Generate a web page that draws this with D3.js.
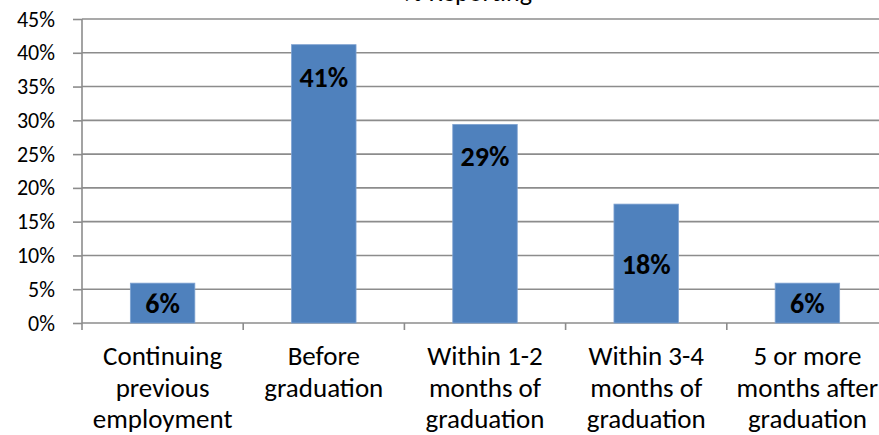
<!DOCTYPE html>
<html>
<head>
<meta charset="utf-8">
<script src="https://cdn.jsdelivr.net/npm/d3@7"></script>
<style>
  body { margin: 0; background: #fff; }
  svg { display: block; font-family: Carlito, Calibri, Lato, sans-serif; }
</style>
</head>
<body>
<script>
// chart data
var categories = [
  ["Continuing", "previous", "employment"],
  ["Before", "graduation"],
  ["Within 1-2", "months of", "graduation"],
  ["Within 3-4", "months of", "graduation"],
  ["5 or more", "months after", "graduation"]
];
var values = [5.9, 41.2, 29.4, 17.6, 5.9];
var valueLabels = ["6%", "41%", "29%", "18%", "6%"];
var yTicks = [0, 5, 10, 15, 20, 25, 30, 35, 40, 45];
var chartTitle = "% Reporting";

var svgWidth = 879;
var svgHeight = 435;
var margin = { top: 19, right: -9, bottom: 112, left: 82 };
var width = svgWidth - margin.left - margin.right;
var height = svgHeight - margin.top - margin.bottom;

var svg = d3.select("body")
  .append("svg")
  .attr("width", svgWidth)
  .attr("height", svgHeight);

// title, mostly cut off at the top like the source
svg.append("text")
  .attr("x", 468)
  .attr("y", 1)
  .attr("text-anchor", "middle")
  .style("font-size", "26px")
  .attr("fill", "#000")
  .text(chartTitle);

var chartGroup = svg.append("g")
  .attr("transform", `translate(${margin.left}, ${margin.top})`);

var xScale = d3.scaleBand()
  .domain(d3.range(categories.length))
  .range([0, width])
  .padding(0);

var yScale = d3.scaleLinear()
  .domain([0, 45])
  .range([height, 0]);

var gridColor = "#8c8c8c";

// gridlines
chartGroup.append("g")
  .selectAll("line")
  .data(yTicks)
  .enter()
  .append("line")
  .attr("x1", 0)
  .attr("x2", width)
  .attr("y1", d => yScale(d))
  .attr("y2", d => yScale(d))
  .attr("stroke", gridColor)
  .attr("stroke-width", 1.6);

// y axis
var leftAxis = d3.axisLeft(yScale)
  .tickValues(yTicks)
  .tickSize(9)
  .tickPadding(18)
  .tickFormat(d => d + "%");

var yAxis = chartGroup.append("g").call(leftAxis);
yAxis.select(".domain").remove();
yAxis.selectAll(".tick line").attr("stroke", gridColor).attr("stroke-width", 1.6);
yAxis.selectAll(".tick text")
  .style("font-size", "22px")
  .style("font-family", "Carlito, Calibri, Lato, sans-serif")
  .attr("fill", "#000");

chartGroup.append("line")
  .attr("x1", 0).attr("x2", 0)
  .attr("y1", 0).attr("y2", height + 7)
  .attr("stroke", gridColor)
  .attr("stroke-width", 1.6);

// category tick marks at band edges
chartGroup.append("g")
  .selectAll("line")
  .data(d3.range(1, categories.length + 1))
  .enter()
  .append("line")
  .attr("x1", d => d * xScale.step())
  .attr("x2", d => d * xScale.step())
  .attr("y1", height)
  .attr("y2", height + 7)
  .attr("stroke", gridColor)
  .attr("stroke-width", 1.6);

// bars
var barW = xScale.bandwidth() * 0.4;
chartGroup.selectAll("rect.bar")
  .data(values)
  .enter()
  .append("rect")
  .attr("class", "bar")
  .attr("x", (d, i) => xScale(i) + (xScale.bandwidth() - barW) / 2)
  .attr("y", d => yScale(d))
  .attr("width", barW)
  .attr("height", d => height - yScale(d))
  .attr("fill", "#4f81bd")
  .attr("stroke", "#7ea2d1")
  .attr("stroke-width", 0.8);

// data labels: some were dragged up near the top of the bar in the source
var labelAtTop = [false, true, true, false, false];
chartGroup.selectAll("text.val")
  .data(values)
  .enter()
  .append("text")
  .attr("class", "val")
  .attr("x", (d, i) => xScale(i) + xScale.bandwidth() / 2)
  .attr("y", (d, i) => labelAtTop[i] ? yScale(d) + 32 : (yScale(d) + height) / 2)
  .attr("dy", "0.36em")
  .attr("text-anchor", "middle")
  .style("font-size", "28px")
  .style("font-weight", "bold")
  .attr("fill", "#000")
  .text((d, i) => valueLabels[i]);

// category labels
var catGroups = chartGroup.selectAll("text.cat")
  .data(categories)
  .enter()
  .append("text")
  .attr("class", "cat")
  .attr("text-anchor", "middle")
  .style("font-size", "27px")
  .attr("fill", "#000");

catGroups.selectAll("tspan")
  .data((d, i) => d.map(t => ({ t: t, i: i })))
  .enter()
  .append("tspan")
  .attr("x", d => xScale(d.i) + xScale.bandwidth() / 2)
  .attr("y", (d, j) => height + 42 + j * 31.5)
  .text(d => d.t);
</script>
</body>
</html>
